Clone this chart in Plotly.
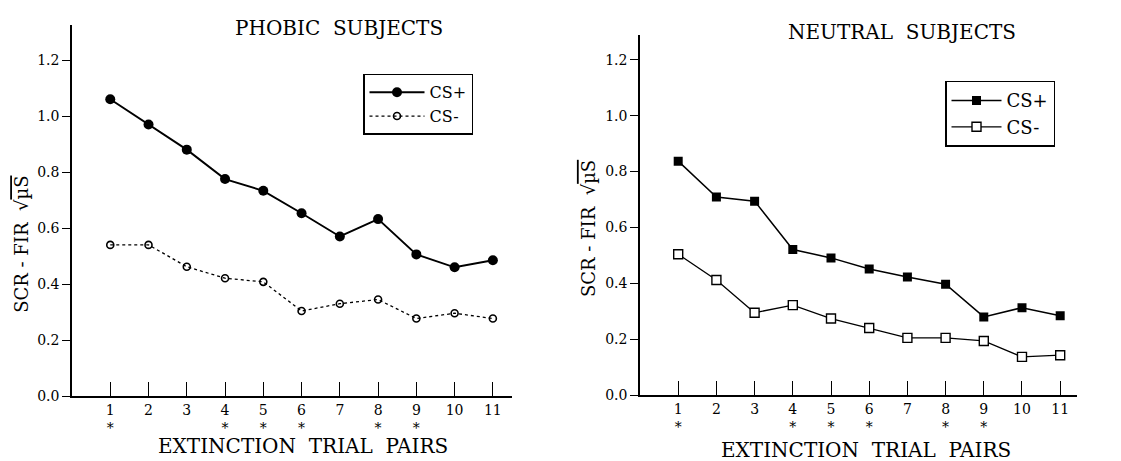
import plotly.graph_objects as go

# ---- data ----
trials = [1, 2, 3, 4, 5, 6, 7, 8, 9, 10, 11]
significant = [1, 0, 0, 1, 1, 1, 0, 1, 1, 0, 0]
phobic_cs_plus = [1.06, 0.97, 0.88, 0.775, 0.733, 0.653, 0.57, 0.632, 0.506, 0.46, 0.485]
phobic_cs_minus = [0.54, 0.54, 0.462, 0.421, 0.408, 0.304, 0.33, 0.345, 0.277, 0.296, 0.277]
neutral_cs_plus = [0.837, 0.709, 0.694, 0.521, 0.491, 0.451, 0.423, 0.397, 0.28, 0.313, 0.284]
neutral_cs_minus = [0.504, 0.412, 0.295, 0.322, 0.274, 0.24, 0.205, 0.205, 0.194, 0.137, 0.143]
y_ticks = [0.0, 0.2, 0.4, 0.6, 0.8, 1.0, 1.2]
y_tick_text = ["0.0", "0.2", "0.4", "0.6", "0.8", "1.0", "1.2"]
x_tick_text = [f"{t}<br>*" if s else f"{t}<br> " for t, s in zip(trials, significant)]

FONT = "DejaVu Serif"
OFFX, OFFY = 8, 0            # page offset of the figure
W, H = 1121 - 2 * OFFX, 461


def px(x):
    return (x - OFFX) / W


def py(y):
    return 1 - (y - OFFY) / H


fig = go.Figure()

fig.add_trace(go.Scatter(x=trials, y=phobic_cs_plus, name="CS+", mode="lines+markers",
                         line=dict(color="black", width=1.9),
                         marker=dict(symbol="circle", size=10, color="black"),
                         xaxis="x", yaxis="y", legend="legend"))
fig.add_trace(go.Scatter(x=trials, y=phobic_cs_minus, name="CS-", mode="lines+markers",
                         line=dict(color="black", width=1.3, dash="dot"),
                         marker=dict(symbol="circle-open", size=7, color="black",
                                     line=dict(width=1.6, color="black")),
                         xaxis="x", yaxis="y", legend="legend"))
fig.add_trace(go.Scatter(x=trials, y=neutral_cs_plus, name="CS+", mode="lines+markers",
                         line=dict(color="black", width=1.5),
                         marker=dict(symbol="square", size=9, color="black"),
                         xaxis="x2", yaxis="y2", legend="legend2"))
fig.add_trace(go.Scatter(x=trials, y=neutral_cs_minus, name="CS-", mode="lines+markers",
                         line=dict(color="black", width=1.3),
                         marker=dict(symbol="square", size=9, color="white",
                                     line=dict(width=1.4, color="black")),
                         xaxis="x2", yaxis="y2", legend="legend2"))

xcommon = dict(showline=True, linecolor="black", linewidth=1.5, showgrid=False, zeroline=False,
               tickmode="array", tickvals=trials, ticktext=x_tick_text,
               ticks="inside", ticklen=14, tickwidth=1.3, tickcolor="black",
               tickfont=dict(family=FONT, size=14, color="black"), fixedrange=True)
ycommon = dict(showline=True, linecolor="black", linewidth=1.5, showgrid=False, zeroline=False,
               tickmode="array", tickvals=y_ticks, ticktext=y_tick_text,
               ticks="outside", ticklen=8, tickwidth=1.2, tickcolor="black",
               tickfont=dict(family=FONT, size=14, color="black"), fixedrange=True)

fig.update_layout(
    width=W, height=H,
    margin=dict(l=0, r=0, t=0, b=0),
    paper_bgcolor="white", plot_bgcolor="white",
    font=dict(family=FONT, color="black"),
    xaxis=dict(domain=[px(72), px(512)], range=[0, 11.5], anchor="y", **xcommon),
    yaxis=dict(domain=[py(395), py(17)], range=[0, 1.326], anchor="x", **ycommon),
    xaxis2=dict(domain=[px(640), px(1077)], range=[0, 11.44], anchor="y2", **xcommon),
    yaxis2=dict(domain=[py(394), py(27)], range=[0, 1.29], anchor="x2", **ycommon),
    legend=dict(x=px(363), y=py(67), xanchor="left", yanchor="top",
                bordercolor="black", borderwidth=1.5, bgcolor="white",
                font=dict(family=FONT, size=16, color="black"), itemwidth=55,
                tracegroupgap=0),
    legend2=dict(x=px(945), y=py(74), xanchor="left", yanchor="top",
                 bordercolor="black", borderwidth=1.5, bgcolor="white",
                 font=dict(family=FONT, size=18, color="black"), itemwidth=50,
                 tracegroupgap=0),
    showlegend=True,
)

ann = dict(xref="paper", yref="paper", showarrow=False, xanchor="center", yanchor="middle")
ytitle = "SCR - FIR  √<span style='text-decoration:overline'>µS</span>"
fig.add_annotation(text="PHOBIC  SUBJECTS", x=px(339), y=py(20),
                   font=dict(family=FONT, size=20, color="black"), **ann)
fig.add_annotation(text="NEUTRAL  SUBJECTS", x=px(902), y=py(24),
                   font=dict(family=FONT, size=20, color="black"), **ann)
fig.add_annotation(text="EXTINCTION  TRIAL  PAIRS", x=px(303), y=py(446),
                   font=dict(family=FONT, size=20, color="black"), **ann)
fig.add_annotation(text="EXTINCTION  TRIAL  PAIRS", x=px(866), y=py(450),
                   font=dict(family=FONT, size=20, color="black"), **ann)
fig.add_annotation(text=ytitle, x=px(22), y=py(241), textangle=-90,
                   font=dict(family=FONT, size=18, color="black"), **ann)
fig.add_annotation(text=ytitle, x=px(588), y=py(225), textangle=-90,
                   font=dict(family=FONT, size=18, color="black"), **ann)

fig.write_html("out.html")
